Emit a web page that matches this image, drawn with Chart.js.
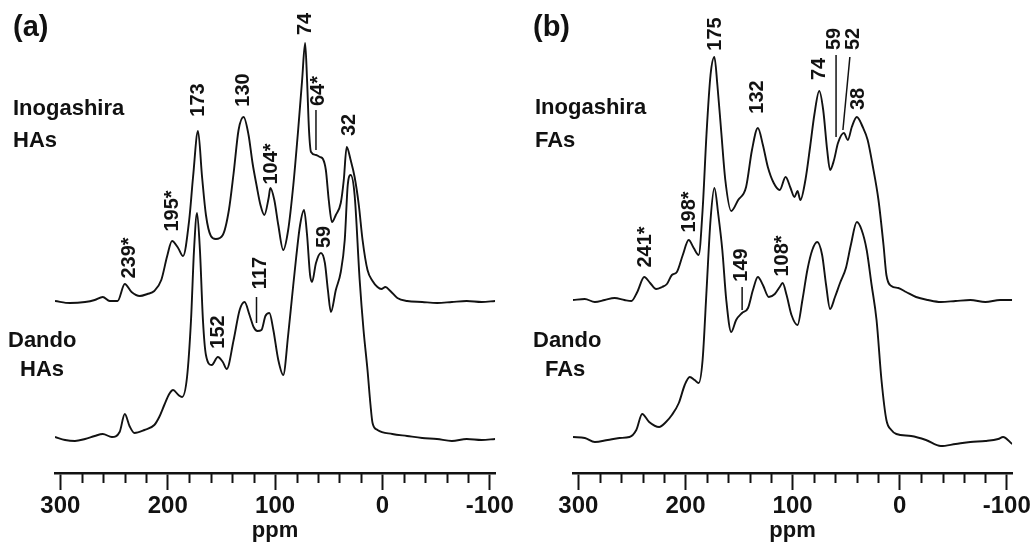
<!DOCTYPE html>
<html>
<head>
<meta charset="utf-8">
<script src="https://cdn.jsdelivr.net/npm/chart.js@4/dist/chart.umd.min.js"></script>
<style>
  html, body { margin: 0; padding: 0; background: #fff; }
  #wrap { position: relative; width: 1033px; height: 545px; overflow: hidden; font-family: "Liberation Sans", Arial, sans-serif; color: #111; }
  .panel { position: absolute; top: 0; height: 545px; }
  .txt { position: absolute; font-size: 22px; line-height: 22px; font-weight: bold; white-space: nowrap; }
  .plab { position: absolute; font-size: 29px; line-height: 29px; font-weight: bold; white-space: nowrap; }
</style>
</head>
<body>
<div id="wrap">
  <div class="panel" style="left:0;width:516px;"><canvas id="chartA"></canvas></div>
  <div class="panel" style="left:516px;width:517px;"><canvas id="chartB"></canvas></div>
  <div class="plab" style="left:13px;top:12px;">(a)</div>
  <div class="plab" style="left:533px;top:12px;">(b)</div>
  <div class="txt" style="left:13px;top:97px;">Inogashira</div>
  <div class="txt" style="left:13px;top:129px;">HAs</div>
  <div class="txt" style="left:8px;top:329px;">Dando</div>
  <div class="txt" style="left:20px;top:358px;">HAs</div>
  <div class="txt" style="left:535px;top:96px;">Inogashira</div>
  <div class="txt" style="left:535px;top:129px;">FAs</div>
  <div class="txt" style="left:533px;top:329px;">Dando</div>
  <div class="txt" style="left:545px;top:358px;">FAs</div>
</div>
<script>
// ---------- Data (chemical shift in ppm, intensity in arbitrary units above each baseline) ----------
const ppmInogashiraHA = [305, 291, 277, 268, 260.5, 254, 246.7, 240, 233.7, 226, 219, 212.5, 206, 200.5, 196, 190.3, 185.7, 180, 176.4, 171.8, 168, 164.4, 159.8, 155.2, 148.7, 143, 138.6, 134, 129.3, 124.7, 121, 117.3, 113.6, 110, 106, 104.4, 100.7, 97, 92.4, 87.8, 83, 78.5, 74.8, 72, 70.2, 68.4, 66.5, 61.9, 58.2, 55.4, 52.7, 50, 47, 43.4, 38.8, 36, 33.3, 29.6, 25.9, 22, 18.5, 13.9, 9.2, 4.6, 1, -2.8, -7.4, -13.9, -23, -37, -51, -64.7, -78.5, -92.4, -105];
const intInogashiraHA = [1, -1, 0, 2, 5, 1, 1, 18, 10, 6, 8, 11, 22, 46, 61, 54, 46, 82, 125, 171, 125, 87, 66, 63, 67, 92, 129, 172, 185, 167, 139, 117, 97, 87, 104, 114, 102, 77, 52, 72, 117, 172, 222, 259, 222, 172, 150, 147, 145, 143, 132, 102, 80, 87, 99, 122, 155, 142, 125, 97, 62, 32, 21, 15, 13, 15, 11, 4, 1, 0, -1, 0, 1, 0, 1];

const ppmDandoHA = [305, 295.6, 286.4, 277, 268, 260.5, 252, 244.8, 240, 235.6, 231, 221.7, 212.5, 207.9, 203.2, 198.6, 195, 190, 186.6, 182, 178.3, 175.5, 172.7, 170, 167.2, 164.4, 159, 153.3, 148.7, 145, 138.6, 133, 128.4, 123.8, 120, 116.4, 112.7, 109, 105.3, 101.6, 97, 92.4, 87.8, 84, 80.4, 76.7, 73, 70.2, 67.4, 65.6, 61.9, 57.3, 53.6, 50.8, 48, 43.4, 38.8, 35.1, 32.3, 29.6, 25.9, 21.2, 17.6, 13.9, 11.1, 9.2, 4.6, -9.2, -23, -37, -50.8, -64.7, -78.5, -92.4, -105];
const intDandoHA = [3, 0, -1, 1, 4, 6, 3, 8, 26, 14, 7, 10, 15, 23, 35, 46, 50, 45, 43, 63, 120, 190, 227, 190, 120, 85, 75, 83, 78, 71, 100, 130, 138, 125, 113, 109, 110, 124, 127, 110, 80, 65, 105, 145, 182, 215, 230, 205, 165, 158, 177, 187, 177, 150, 128, 150, 168, 200, 255, 265, 245, 160, 110, 70, 35, 17, 10, 6, 4, 2, 1, -1, 1, 0, 1];

const ppmInogashiraFA = [305, 294, 284.6, 275.4, 266.2, 257, 250.5, 245, 238.5, 233, 227.4, 221.9, 217.3, 212.7, 208, 202.5, 197, 192.3, 187.7, 184, 180.3, 176.6, 173, 170.2, 166.5, 162.8, 157.3, 150.8, 143.4, 137.9, 132.4, 127.7, 123.1, 117.6, 112, 106.5, 101.9, 98.2, 95.4, 92.7, 88, 83.4, 79.7, 75.1, 71.4, 67.7, 65, 61.3, 57.6, 52.1, 48.4, 44.7, 40, 34.5, 29.9, 25.3, 19.8, 15.1, 12.4, 7.8, 1.3, -6, -15.3, -26.4, -38.4, -52.2, -66, -80, -93.8, -105];
const intInogashiraFA = [1, 2, -1, 1, 3, 1, 0, 9, 24, 18, 12, 14, 17, 26, 29, 46, 61, 53, 46, 91, 168, 226, 244, 216, 168, 121, 90, 101, 114, 151, 173, 156, 134, 118, 111, 124, 113, 104, 110, 101, 121, 156, 186, 210, 191, 151, 131, 141, 158, 168, 161, 174, 184, 174, 161, 136, 101, 56, 26, 15, 13, 9, 4, 1, -1, 0, 1, -1, 1, 1];

const ppmDandoFA = [305, 294, 284.6, 272.6, 261.6, 252.3, 245.9, 240.4, 233.9, 224.6, 218.2, 212.7, 206.2, 200.7, 196, 191.4, 187.7, 184, 180.3, 176.6, 173, 169.3, 165.6, 161.9, 157.3, 152.7, 147.2, 141.6, 137, 132.4, 127.7, 122.2, 116.6, 112, 109.3, 105.6, 101, 95.4, 90.8, 86.2, 81.6, 77, 72.4, 68.7, 65, 60.4, 55.7, 50.2, 45.6, 40, 35.5, 30.8, 26.2, 21.6, 17, 12.4, 7.8, 3.1, -10.7, -24.5, -38.4, -52.2, -66, -80, -92, -96.5, -105];
const intDandoFA = [2, 1, -3, -1, 1, 2, 9, 25, 17, 12, 17, 24, 36, 54, 62, 59, 56, 79, 149, 219, 251, 224, 189, 139, 107, 119, 126, 131, 149, 162, 154, 142, 145, 152, 156, 144, 124, 114, 139, 169, 189, 197, 184, 154, 130, 142, 156, 171, 194, 217, 209, 189, 154, 119, 59, 19, 9, 5, 3, -1, -7, -5, -3, -2, 0, 2, -5];

// Axis tick values (ppm)
const tickValues = [300, 280, 260, 240, 220, 200, 180, 160, 140, 120, 100, 80, 60, 40, 20, 0, -20, -40, -60, -80, -100];

// Peak labels: text, ppm position, vertical level (plot units)
const peakTextA  = ['239*', '195*', '173', '130', '104*', '74', '64*', '32', '59', '152', '117'];
const peakPpmA   = [235.6, 195.8, 171.8, 129.3, 103.5, 72, 60, 30.5, 53.6, 152.4, 113.6];
const peakLevelA = [215, 262, 373, 383, 309, 449, 382, 348, 236, 141, 200];
const leaderA = [[61.9, 363, 61.9, 323], [117.3, 176, 117.3, 150]];

const peakTextB  = ['241*', '198*', '175', '132', '74', '59', '52', '38', '149', '108*'];
const peakPpmB   = [237.6, 196, 172.1, 132.4, 75.1, 61.3, 42.8, 38.2, 148, 109.3];
const peakLevelB = [226, 261, 439, 376, 404, 434, 434, 374, 208, 217];
const leaderB = [[59.4, 418, 59.4, 336], [46.5, 416, 53, 343], [147.1, 186, 147.1, 163]];

// Vertical stacking offsets for the upper and lower spectra
const offsetsA = { upper: 171, lower: 33 };
const offsetsB = { upper: 172, lower: 34 };

// ---------- Helpers ----------
const INK = '#121212';
const FONT = '"Liberation Sans", Arial, sans-serif';
function series(ppm, inten, off) {
  return ppm.map((p, i) => ({ x: p, y: inten[i] + off }));
}
function makePlugin(texts, ppms, levels, leaders) {
  return {
    id: 'peakLabels',
    afterDatasetsDraw(chart) {
      const { ctx, scales: { x, y } } = chart;
      ctx.save();
      ctx.fillStyle = INK;
      ctx.strokeStyle = INK;
      ctx.lineWidth = 1.5;
      ctx.font = 'bold 20px ' + FONT;
      ctx.textAlign = 'center';
      ctx.textBaseline = 'middle';
      texts.forEach((t, i) => {
        ctx.save();
        ctx.translate(x.getPixelForValue(ppms[i]), y.getPixelForValue(levels[i]));
        ctx.rotate(-Math.PI / 2);
        ctx.fillText(t, 0, 0);
        ctx.restore();
      });
      leaders.forEach(l => {
        ctx.beginPath();
        ctx.moveTo(x.getPixelForValue(l[0]), y.getPixelForValue(l[1]));
        ctx.lineTo(x.getPixelForValue(l[2]), y.getPixelForValue(l[3]));
        ctx.stroke();
      });
      // minor ticks
      ctx.lineWidth = 2;
      tickValues.forEach(v => {
        if (v % 100 === 0) return;
        const px = Math.round(x.getPixelForValue(v)) + 0.5;
        ctx.beginPath();
        ctx.moveTo(px, x.top);
        ctx.lineTo(px, x.top + 10);
        ctx.stroke();
      });
      ctx.restore();
    }
  };
}
function makeChart(id, upper, lower, padL, padR, plugin) {
  return new Chart(document.getElementById(id), {
    type: 'line',
    data: {
      datasets: [
        { data: upper, borderColor: INK, borderWidth: 1.9, pointRadius: 0, cubicInterpolationMode: 'monotone', fill: false },
        { data: lower, borderColor: INK, borderWidth: 1.9, pointRadius: 0, cubicInterpolationMode: 'monotone', fill: false }
      ]
    },
    options: {
      responsive: true,
      maintainAspectRatio: false,
      animation: false,
      devicePixelRatio: 1,
      layout: { padding: { left: padL, right: padR, top: 0, bottom: 0 } },
      plugins: { legend: { display: false }, tooltip: { enabled: false }, title: { display: false } },
      scales: {
        x: {
          type: 'linear',
          min: -105,
          max: 305,
          reverse: true,
          afterBuildTicks: s => { s.ticks = tickValues.map(v => ({ value: v })); },
          afterFit: s => { s.height = 72; },
          border: { display: true, color: INK, width: 2.5 },
          grid: {
            display: true,
            drawOnChartArea: false,
            drawTicks: true,
            tickLength: 17,
            tickWidth: 2,
            tickColor: c => (c.tick && c.tick.value % 100 === 0) ? INK : 'rgba(0,0,0,0)'
          },
          ticks: {
            autoSkip: false,
            maxRotation: 0,
            minRotation: 0,
            padding: 2,
            color: INK,
            font: { family: FONT, size: 24, weight: 'bold' },
            callback: v => (v % 100 === 0 ? String(v) : '')
          },
          title: {
            display: true,
            text: 'ppm',
            color: INK,
            font: { family: FONT, size: 22, weight: 'bold' },
            padding: { top: 0, bottom: 1 }
          }
        },
        y: { display: false, min: 0, max: 473 }
      }
    },
    plugins: [plugin]
  });
}

makeChart('chartA',
  series(ppmInogashiraHA, intInogashiraHA, offsetsA.upper),
  series(ppmDandoHA, intDandoHA, offsetsA.lower),
  55, 17, makePlugin(peakTextA, peakPpmA, peakLevelA, leaderA));

makeChart('chartB',
  series(ppmInogashiraFA, intInogashiraFA, offsetsB.upper),
  series(ppmDandoFA, intDandoFA, offsetsB.lower),
  57, 16, makePlugin(peakTextB, peakPpmB, peakLevelB, leaderB));
</script>
</body>
</html>
